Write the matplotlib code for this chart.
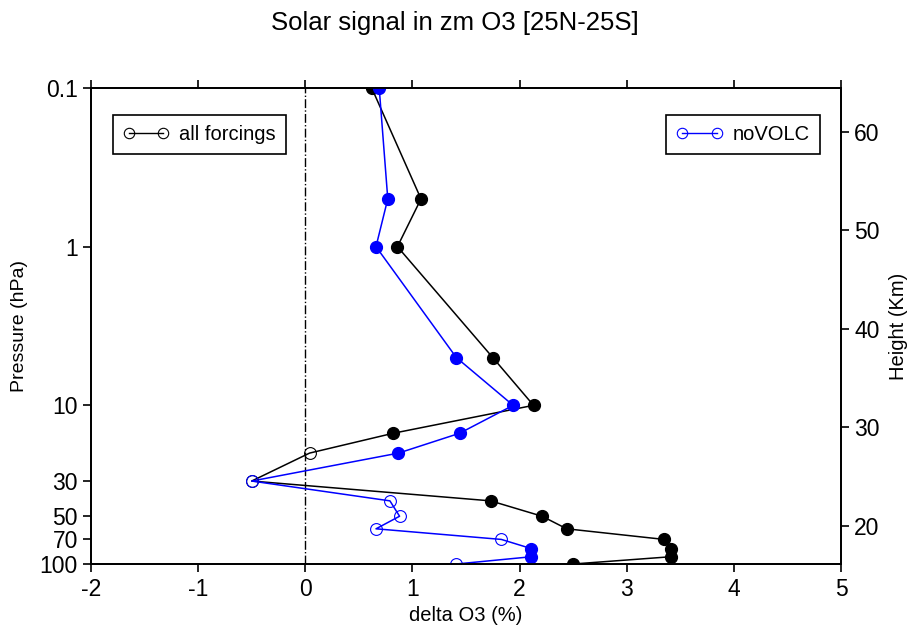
import numpy as np
import matplotlib
matplotlib.use("Agg")
import matplotlib.pyplot as plt
from matplotlib.lines import Line2D

plt.rcParams['font.family'] = ['Liberation Sans', 'DejaVu Sans']
plt.rcParams['axes.unicode_minus'] = False

# pressure levels (hPa)
pres = [0.1, 0.5, 1, 5, 10, 15, 20, 30, 40, 50, 60, 70, 80, 90, 100]

# delta O3 (%) for the two experiments
all_forc = [0.62, 1.08, 0.86, 1.75, 2.13, 0.82, 0.04, -0.5, 1.73, 2.21, 2.44, 3.35, 3.41, 3.41, 2.50]
novolc = [0.69, 0.77, 0.66, 1.41, 1.94, 1.44, 0.87, -0.5, 0.79, 0.88, 0.66, 1.83, 2.11, 2.11, 1.41]

# significant points are drawn filled
all_sig = [1, 1, 1, 1, 1, 1, 0, 0, 1, 1, 1, 1, 1, 1, 1]
novolc_sig = [1, 1, 1, 1, 1, 1, 1, 0, 0, 0, 0, 0, 1, 1, 0]

p_ticks = [0.1, 1, 10, 30, 50, 70, 100]
p_labels = ['0.1', '1', '10', '30', '50', '70', '100']
z_ticks = [20, 30, 40, 50, 60]
scale_h = 7.0


def draw(ax, x, sig, color):
    x = np.array(x)
    p = np.array(pres)
    s = np.array(sig, dtype=bool)
    ax.plot(x, p, color=color, lw=1.1, zorder=3)
    ax.plot(x[s], p[s], 'o', color=color, ms=8.5, zorder=4)
    ax.plot(x[~s], p[~s], 'o', mfc='none', mec=color, mew=0.8, ms=8.5, zorder=4)


fig = plt.figure(figsize=(9.09, 6.28), dpi=100)
ax = fig.add_axes([0.1001, 0.1019, 0.8251, 0.758])

ax.axvline(0, color='black', lw=1, ls='-.', zorder=1)
draw(ax, all_forc, all_sig, 'black')
draw(ax, novolc, novolc_sig, '#0000ff')

ax.set_yscale('log')
ax.set_ylim(100, 0.1)
ax.set_xlim(-2, 5)
ax.set_yticks(p_ticks)
ax.set_yticklabels(p_labels)
ax.minorticks_off()
ax.set_xticks(range(-2, 6))
ax.tick_params(direction='out', length=6, width=1.2, labelsize=16.5,
               top=True, right=False)
ax.tick_params(axis='x', pad=4)
for sp in ax.spines.values():
    sp.set_linewidth(1.3)

ax.set_xlabel('delta O3 (%)', fontsize=14.5)
ax.set_ylabel('Pressure (hPa)', fontsize=14, labelpad=8)

# height axis on the right
ax2 = ax.twinx()
ax2.set_yscale('log')
ax2.set_ylim(100, 0.1)
ax2.minorticks_off()
ax2.set_yticks([1000 * np.exp(-z / scale_h) for z in z_ticks])
ax2.set_yticklabels([str(z) for z in z_ticks])
ax2.minorticks_off()
ax2.tick_params(direction='out', length=6, width=1.2, labelsize=16.5)
ax2.set_ylabel('Height (Km)', fontsize=14.5, labelpad=7)
for sp in ax2.spines.values():
    sp.set_linewidth(1.3)

h1 = Line2D([], [], color='black', lw=1, marker='o', mfc='none', mec='black', ms=7.5, mew=0.8)
h2 = Line2D([], [], color='#0000ff', lw=1, marker='o', mfc='none', mec='#0000ff', ms=7.5, mew=0.8)
leg1 = ax2.legend([h1], ['all forcings'], loc='upper left', bbox_to_anchor=(0.029, 0.943),
                  borderaxespad=0, fontsize=14.5, fancybox=False, edgecolor='black',
                  framealpha=1, handlelength=2.3, handletextpad=0.5, borderpad=0.5,
                  numpoints=2)
leg1.get_frame().set_linewidth(1.2)
ax2.add_artist(leg1)
leg2 = ax2.legend([h2], ['noVOLC'], loc='upper right', bbox_to_anchor=(0.972, 0.943),
                  borderaxespad=0, fontsize=14.5, fancybox=False, edgecolor='black',
                  framealpha=1, handlelength=2.3, handletextpad=0.5, borderpad=0.5,
                  numpoints=2)
leg2.get_frame().set_linewidth(1.2)

fig.text(0.5, 0.964, 'Solar signal in zm O3 [25N-25S]', ha='center', va='center', fontsize=18.5)

fig.savefig('out.png', dpi=100)
